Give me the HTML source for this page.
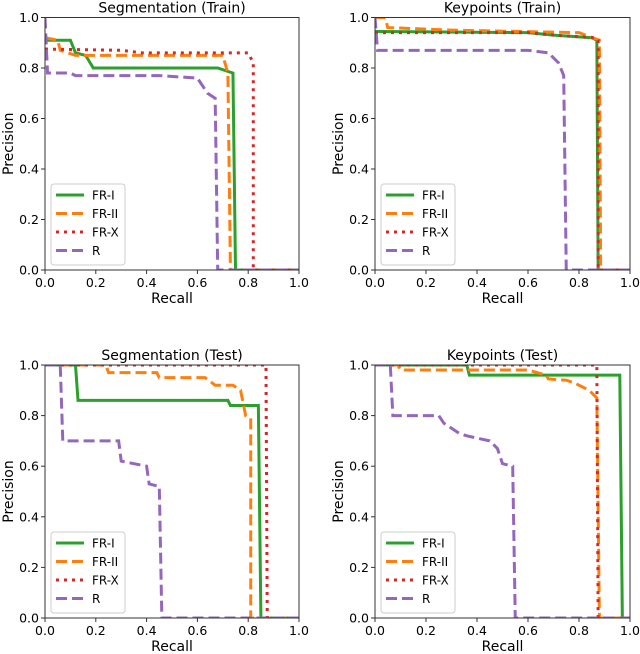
<!DOCTYPE html>
<html><head><meta charset="utf-8"><style>
html,body{margin:0;padding:0;background:#fff;}
svg{display:block;font-family:"DejaVu Sans","Liberation Sans",sans-serif;}
</style></head><body>
<svg id="fig" width="640" height="654" viewBox="0 0 640 654"></svg>
<script>
const ticks=[0,0.2,0.4,0.6,0.8,1.0];
const tickLabels=["0.0","0.2","0.4","0.6","0.8","1.0"];
const seriesNames=["FR-I","FR-II","FR-X","R"];
const titles=["Segmentation (Train)","Keypoints (Train)","Segmentation (Test)","Keypoints (Test)"];
// Segmentation (Train)
const segTrainFR1=[[0,0.91],[0.1,0.91],[0.12,0.86],[0.16,0.85],[0.19,0.8],[0.68,0.8],[0.74,0.78],[0.75,0],[1,0]];
const segTrainFR2=[[0,0.92],[0.05,0.91],[0.06,0.87],[0.12,0.85],[0.7,0.85],[0.72,0.78],[0.73,0],[1,0]];
const segTrainFRX=[[0,0.875],[0.3,0.87],[0.38,0.86],[0.8,0.86],[0.82,0.82],[0.82,0],[1,0]];
const segTrainR=[[0,1.0],[0.01,0.78],[0.1,0.78],[0.12,0.77],[0.45,0.77],[0.6,0.76],[0.64,0.7],[0.67,0.68],[0.68,0],[1,0]];
// Keypoints (Train)
const kpTrainFR1=[[0,0.945],[0.6,0.94],[0.7,0.93],[0.85,0.92],[0.87,0.91],[0.875,0],[1,0]];
const kpTrainFR2=[[0,1.0],[0.04,1.0],[0.05,0.96],[0.3,0.95],[0.8,0.94],[0.88,0.91],[0.885,0],[1,0]];
const kpTrainFRX=[[0,0.94],[0.6,0.94],[0.7,0.93],[0.86,0.92],[0.875,0.91],[0.875,0],[1,0]];
const kpTrainR=[[0,1.0],[0.01,0.87],[0.6,0.87],[0.68,0.86],[0.72,0.82],[0.74,0.77],[0.75,0],[1,0]];
// Segmentation (Test)
const segTestFR1=[[0,1],[0.12,1],[0.13,0.86],[0.72,0.86],[0.73,0.84],[0.84,0.84],[0.85,0],[1,0]];
const segTestFR2=[[0,1],[0.24,1],[0.25,0.97],[0.44,0.97],[0.45,0.95],[0.63,0.95],[0.67,0.92],[0.74,0.92],[0.77,0.9],[0.79,0.8],[0.81,0.79],[0.81,0],[1,0]];
const segTestFRX=[[0,1],[0.87,1],[0.875,0],[1,0]];
const segTestR=[[0,1],[0.06,1],[0.07,0.7],[0.29,0.7],[0.3,0.62],[0.35,0.61],[0.4,0.6],[0.41,0.53],[0.45,0.52],[0.46,0],[1,0]];
// Keypoints (Test)
const kpTestFR1=[[0,1],[0.36,1],[0.37,0.96],[0.96,0.96],[0.97,0],[1,0]];
const kpTestFR2=[[0,1],[0.09,1],[0.1,0.98],[0.6,0.98],[0.67,0.96],[0.68,0.945],[0.75,0.94],[0.78,0.93],[0.84,0.9],[0.87,0.87],[0.88,0],[1,0]];
const kpTestFRX=[[0,1],[0.87,1],[0.875,0],[1,0]];
const kpTestR=[[0,1],[0.06,1],[0.07,0.8],[0.25,0.8],[0.27,0.77],[0.33,0.73],[0.36,0.72],[0.45,0.7],[0.48,0.67],[0.5,0.61],[0.54,0.6],[0.55,0],[1,0]];

const panelData=[[segTrainFR1,segTrainFR2,segTrainFRX,segTrainR],[kpTrainFR1,kpTrainFR2,kpTrainFRX,kpTrainR],[segTestFR1,segTestFR2,segTestFRX,segTestR],[kpTestFR1,kpTestFR2,kpTestFRX,kpTestR]];
const colors=["#2ca02c","#ff7f0e","#d62728","#9467bd"];
const dashes=["","11,5","3,5","11,5"];
const boxes=[{x0:45,x1:299,y0:17.5,y1:270},{x0:375,x1:630,y0:17.5,y1:270},{x0:45,x1:299,y0:365,y1:618},{x0:375,x1:630,y0:365,y1:618}];
const NS="http://www.w3.org/2000/svg";
const svg=document.getElementById('fig');
function mk(tag,attrs,parent){const e=document.createElementNS(NS,tag);for(const k in attrs)e.setAttribute(k,attrs[k]);(parent||svg).appendChild(e);return e;}
const slug=["segmentation-train","keypoints-train","segmentation-test","keypoints-test"];
boxes.forEach((b,pi)=>{
  const g=mk('g',{});
  
  
  const sx=v=>b.x0+v*(b.x1-b.x0);
  const sy=v=>b.y1-v*(b.y1-b.y0);
  const t=mk('text',{x:(b.x0+b.x1)/2,y:b.y0-5,'text-anchor':'middle','font-size':14},g);
  t.textContent=titles[pi];
  
  
  const clipId='c'+pi;
  const cp=mk('clipPath',{id:clipId},g);
  mk('rect',{x:b.x0,y:b.y0,width:b.x1-b.x0,height:b.y1-b.y0},cp);
  panelData[pi].forEach((s,si)=>{
    const d=s.map((p,i)=>(i?'L':'M')+sx(p[0]).toFixed(2)+','+sy(p[1]).toFixed(2)).join(' ');
    const p=mk('path',{d:d,fill:'none',stroke:colors[si],'stroke-width':3,'stroke-dasharray':dashes[si]||'none','clip-path':'url(#'+clipId+')'},g);
    
    
  });
  mk('rect',{x:b.x0,y:b.y0,width:b.x1-b.x0,height:b.y1-b.y0,fill:'none',stroke:'#333','stroke-width':1},g);
  ticks.forEach((v,i)=>{
    mk('line',{x1:sx(v),x2:sx(v),y1:b.y1,y2:b.y1+4,stroke:'#333'},g);
    const tx=mk('text',{x:sx(v),y:b.y1+17,'text-anchor':'middle','font-size':12.5},g);
    tx.textContent=tickLabels[i];
    
    
    mk('line',{x1:b.x0-4,x2:b.x0,y1:sy(v),y2:sy(v),stroke:'#333'},g);
    const ty=mk('text',{x:b.x0-6,y:sy(v)+4.5,'text-anchor':'end','font-size':12.5},g);
    ty.textContent=tickLabels[i];
    
    
  });
  const xl=mk('text',{x:(b.x0+b.x1)/2,y:b.y1+33,'text-anchor':'middle','font-size':14},g);
  xl.textContent='Recall';
  
  
  const ycx=b.x0-32, ycy=(b.y0+b.y1)/2;
  const yl=mk('text',{x:ycx,y:ycy,'text-anchor':'middle','font-size':14,transform:'rotate(-90 '+ycx+' '+ycy+')'},g);
  yl.textContent='Precision';
  
  
  const lx=b.x0+6, ly=b.y1-86;
  const lg=mk('g',{},g);
  
  
  mk('rect',{x:lx,y:ly,width:74,height:81,rx:3,fill:'#fff','fill-opacity':0.8,stroke:'#ccc'},lg);
  seriesNames.forEach((n,si)=>{
    const yy=ly+11+si*18.5;
    mk('line',{x1:lx+5,x2:lx+33,y1:yy,y2:yy,stroke:colors[si],'stroke-width':3,'stroke-dasharray':dashes[si]||'none'},lg);
    const lt=mk('text',{x:lx+41,y:yy+4.5,'font-size':12},lg);
    lt.textContent=n;
    
    
  });
});
</script>
</body></html>
